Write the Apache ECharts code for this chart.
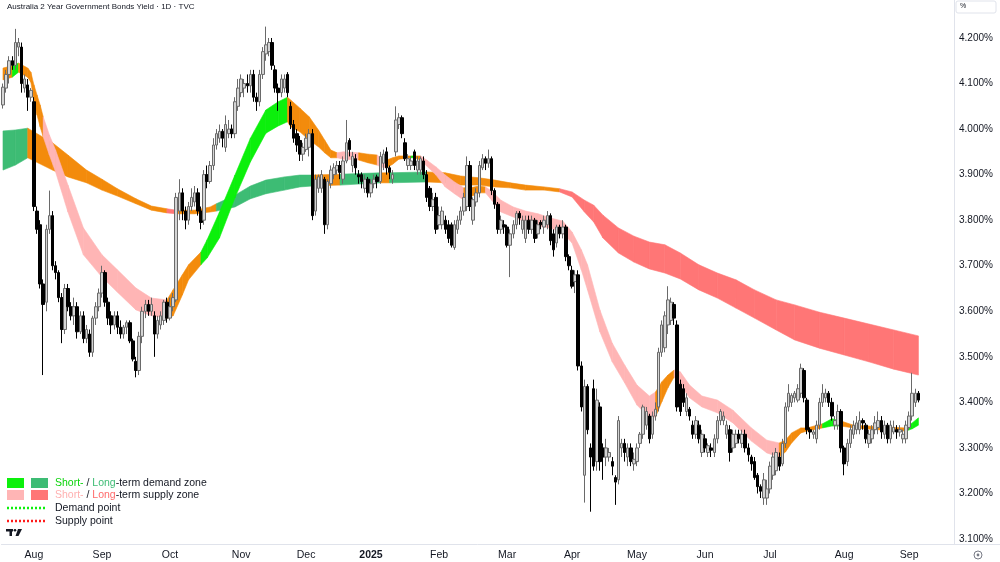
<!DOCTYPE html>
<html>
<head>
<meta charset="utf-8">
<title>Australia 2 Year Government Bonds Yield</title>
<script src="https://cdn.jsdelivr.net/npm/echarts@6.0.0/dist/echarts.min.js"></script>
<style>
  html, body { margin: 0; padding: 0; background: #ffffff; }
  #chart { width: 1000px; height: 562px; }
</style>
</head>
<body>
<div id="chart"></div>
<script>
// daily candles [open, close, low, high], oldest first (Jul 2024 .. Sep 2025)
var ohlc = [
  [4.053,4.092,4.045,4.100],[4.090,4.120,4.080,4.130],[4.120,4.150,4.100,4.160],[4.150,4.140,4.130,4.160],
  [4.140,4.190,4.130,4.220],[4.180,4.190,4.160,4.200],[4.180,4.100,4.080,4.190],[4.090,4.110,4.080,4.120],
  [4.097,4.070,4.040,4.110],[4.070,4.085,4.060,4.090],[4.060,3.830,3.820,4.070],[3.820,3.780,3.770,3.830],
  [3.790,3.660,3.650,3.800],[3.660,3.615,3.460,3.670],[3.620,3.780,3.600,3.790],[3.780,3.810,3.770,3.865],
  [3.810,3.700,3.690,3.820],[3.700,3.685,3.670,3.710],[3.685,3.630,3.620,3.690],[3.630,3.560,3.530,3.640],
  [3.560,3.650,3.550,3.660],[3.650,3.610,3.600,3.660],[3.610,3.590,3.580,3.620],[3.590,3.610,3.570,3.630],
  [3.610,3.555,3.540,3.620],[3.555,3.590,3.550,3.600],[3.590,3.540,3.530,3.600],[3.540,3.560,3.530,3.570],
  [3.550,3.510,3.500,3.560],[3.510,3.585,3.500,3.590],[3.585,3.610,3.570,3.620],[3.610,3.640,3.600,3.650],
  [3.640,3.685,3.630,3.700],[3.685,3.620,3.610,3.690],[3.620,3.585,3.570,3.630],[3.590,3.570,3.550,3.600],
  [3.570,3.590,3.560,3.600],[3.590,3.565,3.550,3.600],[3.565,3.550,3.540,3.580],[3.550,3.565,3.540,3.570],
  [3.565,3.575,3.550,3.580],[3.575,3.535,3.530,3.580],[3.535,3.495,3.490,3.540],[3.490,3.470,3.455,3.500],
  [3.470,3.545,3.460,3.555],[3.545,3.600,3.530,3.610],[3.600,3.615,3.585,3.625],[3.615,3.600,3.590,3.625],
  [3.600,3.615,3.590,3.630],[3.590,3.550,3.500,3.600],[3.550,3.580,3.540,3.590],[3.570,3.590,3.560,3.600],
  [3.580,3.620,3.570,3.625],[3.620,3.585,3.575,3.630],[3.585,3.610,3.580,3.630],[3.610,3.630,3.600,3.640],
  [3.625,3.850,3.620,3.860],[3.820,3.860,3.800,3.890],[3.860,3.820,3.800,3.870],[3.820,3.800,3.780,3.830],
  [3.800,3.830,3.790,3.840],[3.830,3.850,3.820,3.870],[3.840,3.860,3.830,3.875],[3.860,3.820,3.810,3.870],
  [3.820,3.795,3.780,3.830],[3.800,3.900,3.790,3.910],[3.900,3.885,3.870,3.920],[3.885,3.920,3.880,3.930],
  [3.920,3.965,3.910,3.980],[3.965,3.990,3.955,4.000],[3.980,3.995,3.970,4.010],[3.995,3.980,3.960,4.000],
  [3.960,4.010,3.950,4.030],[3.990,4.000,3.980,4.020],[4.000,3.990,3.980,4.010],[3.990,4.060,3.980,4.070],
  [4.050,4.090,4.040,4.110],[4.080,4.110,4.070,4.120],[4.090,4.100,4.070,4.110],[4.100,4.095,4.080,4.120],
  [4.095,4.120,4.080,4.130],[4.120,4.070,4.060,4.130],[4.070,4.060,4.040,4.080],[4.060,4.120,4.050,4.130],
  [4.120,4.170,4.110,4.180],[4.165,4.185,4.150,4.225],[4.170,4.190,4.160,4.200],[4.190,4.140,4.130,4.200],
  [4.130,4.090,4.080,4.140],[4.090,4.080,4.040,4.100],[4.080,4.110,4.070,4.120],[4.090,4.110,4.080,4.120],
  [4.120,4.080,4.070,4.125],[4.050,4.010,4.000,4.060],[4.010,3.980,3.970,4.020],[3.990,3.965,3.950,4.000],
  [3.975,3.945,3.930,3.985],[3.945,3.960,3.930,3.970],[3.955,3.980,3.950,3.990],[3.960,3.990,3.940,4.000],
  [3.990,3.810,3.800,4.000],[3.820,3.890,3.810,3.900],[3.870,3.895,3.860,3.900],[3.870,3.900,3.860,3.910],
  [3.890,3.790,3.770,3.895],[3.790,3.885,3.780,3.890],[3.880,3.910,3.870,3.920],[3.900,3.915,3.890,3.925],
  [3.910,3.920,3.900,3.930],[3.920,3.905,3.890,3.930],[3.890,3.930,3.880,3.940],[3.930,3.970,3.925,4.020],
  [3.975,3.955,3.940,3.980],[3.920,3.940,3.905,3.950],[3.935,3.915,3.900,3.945],[3.900,3.895,3.880,3.910],
  [3.900,3.885,3.870,3.905],[3.870,3.890,3.860,3.900],[3.890,3.860,3.850,3.895],[3.860,3.880,3.850,3.890],
  [3.880,3.890,3.870,3.900],[3.895,3.885,3.870,3.900],[3.885,3.940,3.880,3.950],[3.925,3.945,3.910,3.955],
  [3.950,3.915,3.900,3.960],[3.915,3.905,3.890,3.920],[3.890,3.900,3.880,3.910],[3.950,4.020,3.940,4.050],
  [4.010,4.025,4.000,4.035],[4.025,3.990,3.980,4.030],[3.970,3.935,3.930,3.980],[3.920,3.935,3.910,3.945],
  [3.920,3.930,3.910,3.940],[3.950,3.920,3.910,3.955],[3.910,3.930,3.900,3.940],[3.910,3.935,3.900,3.940],
  [3.930,3.900,3.890,3.940],[3.900,3.850,3.840,3.910],[3.870,3.830,3.820,3.875],[3.830,3.845,3.820,3.860],
  [3.850,3.780,3.770,3.860],[3.790,3.810,3.780,3.830],[3.790,3.820,3.780,3.830],[3.800,3.780,3.770,3.810],
  [3.790,3.760,3.750,3.800],[3.790,3.745,3.740,3.795],[3.740,3.790,3.735,3.800],[3.780,3.800,3.770,3.810],
  [3.800,3.820,3.790,3.830],[3.820,3.850,3.810,3.860],[3.830,3.920,3.820,3.940],[3.920,3.830,3.820,3.930],
  [3.800,3.845,3.790,3.850],[3.840,3.860,3.830,3.870],[3.860,3.920,3.850,3.930],[3.915,3.935,3.910,3.945],
  [3.935,3.925,3.910,3.940],[3.925,3.935,3.915,3.955],[3.935,3.865,3.855,3.940],[3.865,3.835,3.825,3.870],
  [3.835,3.780,3.770,3.840],[3.780,3.800,3.770,3.810],[3.790,3.785,3.770,3.800],[3.785,3.745,3.740,3.790],
  [3.745,3.770,3.675,3.780],[3.770,3.790,3.760,3.800],[3.790,3.815,3.780,3.820],[3.815,3.805,3.790,3.820],
  [3.780,3.800,3.770,3.810],[3.760,3.800,3.750,3.810],[3.800,3.780,3.770,3.810],[3.780,3.800,3.770,3.810],
  [3.800,3.760,3.750,3.805],[3.770,3.790,3.760,3.800],[3.795,3.790,3.780,3.800],[3.785,3.800,3.770,3.810],
  [3.790,3.810,3.780,3.820],[3.810,3.755,3.745,3.815],[3.770,3.735,3.720,3.780],[3.750,3.785,3.740,3.790],
  [3.785,3.770,3.760,3.790],[3.770,3.785,3.760,3.800],[3.785,3.720,3.710,3.790],[3.720,3.700,3.690,3.725],
  [3.690,3.655,3.650,3.700],[3.665,3.680,3.640,3.690],[3.680,3.480,3.470,3.690],[3.480,3.390,3.380,3.490],
  [3.240,3.435,3.180,3.450],[3.435,3.340,3.330,3.440],[3.300,3.280,3.160,3.310],[3.430,3.260,3.250,3.450],
  [3.270,3.405,3.250,3.430],[3.390,3.270,3.250,3.400],[3.300,3.280,3.230,3.310],[3.280,3.300,3.260,3.320],
  [3.280,3.290,3.270,3.300],[3.270,3.260,3.240,3.280],[3.235,3.225,3.175,3.240],[3.230,3.360,3.220,3.370],
  [3.300,3.310,3.280,3.320],[3.310,3.290,3.270,3.320],[3.280,3.300,3.260,3.310],[3.300,3.270,3.260,3.310],
  [3.265,3.275,3.250,3.290],[3.270,3.300,3.260,3.310],[3.310,3.330,3.300,3.335],[3.330,3.390,3.320,3.395],
  [3.350,3.380,3.340,3.390],[3.370,3.320,3.310,3.375],[3.330,3.370,3.320,3.380],[3.370,3.385,3.360,3.400],
  [3.390,3.510,3.380,3.520],[3.510,3.570,3.500,3.580],[3.520,3.590,3.510,3.600],[3.570,3.625,3.550,3.655],
  [3.580,3.620,3.570,3.630],[3.615,3.585,3.570,3.620],[3.570,3.390,3.380,3.580],[3.440,3.380,3.370,3.450],
  [3.430,3.400,3.390,3.440],[3.380,3.410,3.370,3.420],[3.385,3.370,3.360,3.390],[3.350,3.330,3.320,3.360],
  [3.330,3.360,3.320,3.370],[3.350,3.320,3.310,3.360],[3.290,3.330,3.280,3.340],[3.320,3.300,3.290,3.330],
  [3.290,3.305,3.280,3.310],[3.300,3.295,3.280,3.310],[3.290,3.320,3.280,3.330],[3.320,3.360,3.310,3.370],
  [3.360,3.380,3.350,3.385],[3.360,3.370,3.350,3.380],[3.330,3.350,3.320,3.360],[3.340,3.290,3.270,3.350],
  [3.300,3.330,3.290,3.340],[3.310,3.330,3.300,3.340],[3.330,3.320,3.310,3.340],[3.310,3.330,3.300,3.340],
  [3.330,3.300,3.290,3.340],[3.300,3.285,3.270,3.310],[3.280,3.265,3.250,3.285],[3.270,3.235,3.230,3.280],
  [3.240,3.215,3.200,3.245],[3.215,3.205,3.190,3.220],[3.190,3.230,3.175,3.245],[3.190,3.210,3.175,3.230],
  [3.210,3.260,3.200,3.270],[3.240,3.280,3.230,3.290],[3.250,3.290,3.240,3.300],[3.280,3.260,3.250,3.290],
  [3.265,3.310,3.260,3.320],[3.310,3.390,3.300,3.400],[3.390,3.420,3.380,3.440],[3.400,3.415,3.390,3.420],
  [3.410,3.420,3.400,3.425],[3.405,3.430,3.400,3.440],[3.420,3.475,3.410,3.485],[3.470,3.410,3.400,3.475],
  [3.405,3.340,3.330,3.410],[3.340,3.335,3.320,3.345],[3.330,3.335,3.320,3.340],[3.320,3.350,3.310,3.360],
  [3.350,3.400,3.340,3.410],[3.400,3.420,3.390,3.440],[3.410,3.420,3.400,3.430],[3.420,3.400,3.390,3.425],
  [3.400,3.370,3.360,3.410],[3.350,3.360,3.340,3.370],[3.350,3.380,3.340,3.395],[3.380,3.300,3.290,3.385],
  [3.300,3.265,3.240,3.305],[3.270,3.310,3.260,3.320],[3.310,3.340,3.300,3.350],[3.330,3.350,3.320,3.360],
  [3.340,3.355,3.330,3.370],[3.340,3.360,3.330,3.380],[3.360,3.355,3.340,3.365],[3.350,3.320,3.310,3.355],
  [3.310,3.330,3.300,3.340],[3.320,3.340,3.310,3.350],[3.340,3.355,3.330,3.370],[3.345,3.360,3.330,3.380],
  [3.360,3.335,3.320,3.370],[3.330,3.350,3.320,3.360],[3.350,3.320,3.310,3.355],[3.320,3.350,3.310,3.360],
  [3.335,3.345,3.330,3.360],[3.340,3.335,3.320,3.350],[3.335,3.340,3.325,3.350],[3.320,3.330,3.310,3.340],
  [3.320,3.350,3.310,3.360],[3.345,3.370,3.340,3.380],[3.370,3.420,3.360,3.465],[3.400,3.420,3.390,3.430],
  [3.420,3.405,3.400,3.425]
];

// category slots (bars + empty right margin) and month labels
var slotCount = 308;
var monthIdx   = [10, 32, 54, 77, 98, 119, 141, 163, 184, 205, 227, 248, 272, 293];
var monthNames = ['Aug','Sep','Oct','Nov','Dec','2025','Feb','Mar','Apr','May','Jun','Jul','Aug','Sep'];

// short-term ribbon: knot bar index, upper edge, lower edge, zone colour to next knot
var shortIdx = [0,3,5,8,9,10,11,12,13,15,17,21,26,32,37,43,48,53,55,58,60,64,66,70,75,80,85,89,92,93,96,99,102,104,106,108,110,115,118,121,122,124,126,128,132,133,135,137,140,143,146,149,151,154,156,158,161,165,169,173,177,181,184,187,189,193,197,201,205,209,211,213,215,217,219,222,226,231,236,242,247,251,253,255,258,260,265,268,271,275,285,292,294,296];
var shortTop = [4.134,4.139,4.145,4.134,4.125,4.097,4.075,4.053,4.027,3.987,3.954,3.877,3.783,3.724,3.691,3.651,3.629,3.625,3.647,3.680,3.702,3.730,3.757,3.818,3.899,3.980,4.042,4.060,4.070,4.064,4.046,4.027,3.998,3.976,3.954,3.948,3.950,3.948,3.945,3.943,3.937,3.932,3.937,3.941,3.941,3.941,3.941,3.932,3.917,3.899,3.884,3.871,3.871,3.875,3.873,3.864,3.844,3.829,3.820,3.814,3.805,3.798,3.774,3.735,3.702,3.603,3.530,3.482,3.438,3.414,3.423,3.445,3.460,3.471,3.467,3.438,3.414,3.405,3.383,3.344,3.317,3.311,3.317,3.333,3.344,3.344,3.353,3.364,3.359,3.350,3.346,3.344,3.355,3.366];
var shortBot = [4.108,4.114,4.125,4.114,4.103,4.064,4.031,4.005,3.983,3.943,3.906,3.818,3.724,3.675,3.642,3.603,3.590,3.585,3.590,3.636,3.669,3.702,3.717,3.761,3.849,3.928,3.991,4.007,4.016,4.005,3.994,3.976,3.961,3.948,3.937,3.937,3.934,3.932,3.926,3.921,3.917,3.915,3.923,3.934,3.937,3.937,3.932,3.919,3.899,3.873,3.858,3.844,3.851,3.860,3.860,3.844,3.818,3.807,3.796,3.787,3.783,3.772,3.750,3.691,3.647,3.555,3.489,3.443,3.394,3.366,3.368,3.401,3.432,3.456,3.438,3.410,3.390,3.377,3.355,3.315,3.289,3.280,3.291,3.311,3.333,3.337,3.344,3.348,3.348,3.344,3.339,3.337,3.342,3.350];
var shortZone = ['o','g','o','o','o','o','o','o','p','p','p','p','p','p','p','p','p','o','o','o','o','g','g','g','g','g','g','g','o','o','o','o','o','o','o','p','p','o','o','p','p','o','o','o','g','o','p','p','p','p','p','o','o','o','p','p','p','p','p','p','p','p','p','p','p','p','p','p','p','p','o','o','o','p','p','p','p','p','p','p','p','o','o','o','o','o','g','g','o','o','o','g','g','g'];

// long-term ribbon
var longIdx = [0,4,8,16,21,27,32,37,43,48,53,56,62,67,69,75,80,85,91,96,100,109,122,125,137,143,148,154,159,164,169,175,180,184,188,191,194,199,204,209,214,219,225,231,237,243,250,256,264,272,280,288,296];
var longTop = [3.996,3.998,4.002,3.970,3.943,3.910,3.890,3.869,3.847,3.831,3.825,3.822,3.822,3.829,3.836,3.855,3.875,3.888,3.895,3.899,3.899,3.901,3.904,3.904,3.906,3.904,3.897,3.893,3.888,3.882,3.877,3.873,3.869,3.862,3.844,3.833,3.811,3.783,3.765,3.752,3.746,3.728,3.702,3.684,3.669,3.647,3.625,3.614,3.598,3.585,3.572,3.559,3.546];
var longBot = [3.910,3.921,3.937,3.910,3.895,3.882,3.866,3.853,3.836,3.822,3.816,3.814,3.814,3.818,3.820,3.829,3.847,3.858,3.866,3.873,3.875,3.877,3.882,3.882,3.884,3.882,3.877,3.877,3.873,3.871,3.866,3.866,3.862,3.851,3.818,3.796,3.761,3.728,3.708,3.693,3.684,3.671,3.647,3.629,3.607,3.585,3.559,3.537,3.519,3.504,3.489,3.473,3.460];
var longZone = ['G','G','o','o','o','o','o','o','o','o','r','o','o','o','G','G','G','G','G','G','o','G','o','G','o','o','o','o','o','o','o','o','r','r','r','r','r','r','r','r','r','r','r','r','r','r','r','r','r','r','r','r','r'];

var zoneColor = { o: '#f38b0c', g: '#0cf00c', p: '#ffb5b5', G: '#3dbc74', r: '#ff7676' };

var xCats = [];
for (var i = 0; i < slotCount; i++) {
    var m = monthIdx.indexOf(i);
    xCats.push(m >= 0 ? monthNames[m] : '');
}

function bandItems(idx, top, bot) {
    var out = [];
    for (var k = 0; k < idx.length - 1; k++) {
        out.push([idx[k], idx[k + 1], top[k], bot[k], top[k + 1], bot[k + 1], k]);
    }
    return out;
}

function bandSeries(name, idx, top, bot, zone, z) {
    return {
        name: name,
        type: 'custom',
        z: z,
        silent: true,
        data: bandItems(idx, top, bot),
        encode: { x: [0, 1], y: [2, 3, 4, 5] },
        renderItem: function (params, api) {
            var a0 = api.coord([api.value(0), api.value(2)]);
            var a1 = api.coord([api.value(0), api.value(3)]);
            var b0 = api.coord([api.value(1), api.value(4)]);
            var b1 = api.coord([api.value(1), api.value(5)]);
            var c = zoneColor[zone[api.value(6)]];
            return {
                type: 'polygon',
                shape: { points: [a0, b0, b1, a1] },
                style: { fill: c, stroke: c, lineWidth: 0.6 }
            };
        }
    };
}

var myChart = echarts.init(document.getElementById('chart'), null, { renderer: 'canvas' });

var font = 'Liberation Sans, Arial, sans-serif';
var txt = '#131722';

var Option = {
    animation: false,
    backgroundColor: '#ffffff',
    textStyle: { fontFamily: font },
    grid: { left: 0, right: 46, top: 0, bottom: 18 },
    xAxis: {
        type: 'category',
        data: xCats,
        boundaryGap: true,
        axisLine: { show: true, lineStyle: { color: '#e0e3eb' } },
        axisTick: { show: false },
        splitLine: { show: false },
        axisLabel: {
            interval: 0,
            color: txt,
            fontSize: 10.5,
            margin: 6,
            formatter: function (v) {
                if (v === '2025') return '{b|2025}';
                return v;
            },
            rich: { b: { fontWeight: 'bold', fontSize: 10.5, color: txt } }
        }
    },
    yAxis: {
        type: 'value',
        position: 'right',
        min: 3.0891,
        max: 4.2834,
        splitNumber: 12,
        scale: true,
        axisLine: { show: true, lineStyle: { color: '#e0e3eb' } },
        axisTick: { show: false },
        splitLine: { show: false },
        axisLabel: {
            color: txt,
            fontSize: 10,
            margin: 5,
            showMinLabel: false,
            showMaxLabel: false,
            formatter: function (v) {
                if (Math.abs(v * 10 - Math.round(v * 10)) > 1e-6) return '';
                return v.toFixed(3) + '%';
            }
        }
    },
    series: [
        bandSeries('long', longIdx, longTop, longBot, longZone, 1),
        bandSeries('short', shortIdx, shortTop, shortBot, shortZone, 2),
        {
            name: 'yield',
            type: 'candlestick',
            z: 3,
            data: ohlc,
            barWidth: 3,
            itemStyle: {
                color: '#d4d4d4',
                color0: '#000000',
                borderColor: '#6a6a6a',
                borderColor0: '#000000',
                borderWidth: 1
            }
        }
    ],
    graphic: [
        { type: 'text', left: 7, top: 3, style: { text: 'Australia 2 Year Government Bonds Yield · 1D · TVC', font: '8px ' + font, fill: txt } },
        // % box top right
        { type: 'rect', shape: { x: 956, y: 1, width: 40, height: 12, r: 2 }, style: { fill: '#ffffff', stroke: '#e0e3eb', lineWidth: 1 } },
        { type: 'text', x: 960, y: 3, style: { text: '%', font: '7px ' + font, fill: txt } },
        // bottom axis line under the price scale
        { type: 'line', shape: { x1: 954, y1: 544.5, x2: 1000, y2: 544.5 }, style: { stroke: '#e0e3eb', lineWidth: 1 } },
        { type: 'circle', shape: { cx: 978, cy: 555, r: 4 }, style: { fill: 'none', stroke: '#787b86', lineWidth: 1 } },
        { type: 'circle', shape: { cx: 978, cy: 555, r: 1.4 }, style: { fill: '#787b86' } },
        // legend block
        { type: 'rect', shape: { x: 7, y: 478, width: 17, height: 10 }, style: { fill: '#0cf00c' } },
        { type: 'rect', shape: { x: 31, y: 478, width: 17, height: 10 }, style: { fill: '#3dbc74' } },
        { type: 'rect', shape: { x: 7, y: 490, width: 17, height: 10 }, style: { fill: '#ffb5b5' } },
        { type: 'rect', shape: { x: 31, y: 490, width: 17, height: 10 }, style: { fill: '#ff7676' } },
        {
            type: 'text', x: 55, y: 483,
            style: {
                text: '{g|Short-}{k| / }{G|Long}{k|-term demand zone}',
                verticalAlign: 'middle',
                font: '10.5px ' + font,
                rich: {
                    g: { fill: '#0ad40a', font: '10.5px ' + font },
                    G: { fill: '#3dbc74', font: '10.5px ' + font },
                    k: { fill: txt, font: '10.5px ' + font }
                }
            }
        },
        {
            type: 'text', x: 55, y: 495,
            style: {
                text: '{p|Short-}{k| / }{r|Long}{k|-term supply zone}',
                verticalAlign: 'middle',
                font: '10.5px ' + font,
                rich: {
                    p: { fill: '#ffb0b0', font: '10.5px ' + font },
                    r: { fill: '#ff6b6b', font: '10.5px ' + font },
                    k: { fill: txt, font: '10.5px ' + font }
                }
            }
        },
        { type: 'line', shape: { x1: 7, y1: 508, x2: 45, y2: 508 }, style: { stroke: '#0cf00c', lineWidth: 2.5, lineDash: [2, 2] } },
        { type: 'text', x: 55, y: 508, style: { text: 'Demand point', verticalAlign: 'middle', font: '10.5px ' + font, fill: txt } },
        { type: 'line', shape: { x1: 7, y1: 521, x2: 45, y2: 521 }, style: { stroke: '#ff1a1a', lineWidth: 2.5, lineDash: [2, 2] } },
        { type: 'text', x: 55, y: 521, style: { text: 'Supply point', verticalAlign: 'middle', font: '10.5px ' + font, fill: txt } },
        // small TV mark
        { type: 'rect', shape: { x: 6, y: 529, width: 7, height: 2.5 }, style: { fill: txt } },
        { type: 'rect', shape: { x: 9.5, y: 529, width: 2.5, height: 7 }, style: { fill: txt } },
        { type: 'circle', shape: { cx: 15, cy: 530.3, r: 1.3 }, style: { fill: txt } },
        { type: 'polygon', shape: { points: [[18, 529], [22, 529], [18.5, 536], [15.5, 536]] }, style: { fill: txt } }
    ]
};

myChart.setOption(Option);
</script>
</body>
</html>
